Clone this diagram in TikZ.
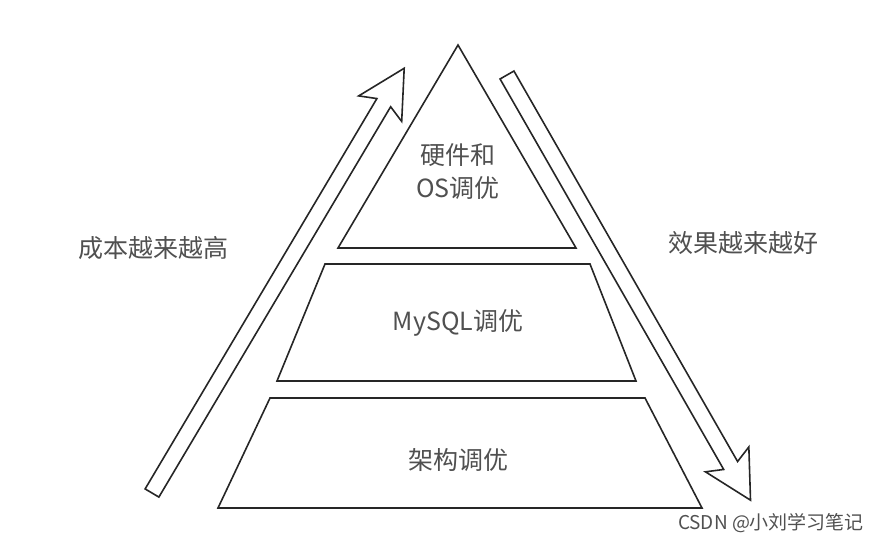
\documentclass[tikz,border=0pt]{standalone}
\usepackage{fontspec}
\setmainfont{Noto Sans CJK SC}
\definecolor{inkgray}{RGB}{80,80,80}
\tikzset{
  level/.style={draw=black!85, line width=1.6pt, line join=miter, fill=white},
  hollowarrow/.style={draw=black!85, line width=1.6pt, fill=white},
  label/.style={text=inkgray, font=\fontsize{25}{33}\selectfont, align=center, inner sep=0pt},
}
\begin{document}
\begin{tikzpicture}[x=1pt,y=1pt]
\useasboundingbox (0,0) rectangle (884,542);
% pyramid levels
\draw[level] (458,497) -- (338,294) -- (576,294) -- cycle;
\draw[level] (325,278) -- (590,278) -- (636,161) -- (277,161) -- cycle;
\draw[level] (270,144) -- (645,144) -- (702,34) -- (218,34) -- cycle;
% arrows
\begin{scope}[shift={(152,49)}, rotate=59.3]
\draw[hollowarrow] (0,-8) -- (454,-8) -- (447,-25) -- (494,0) -- (447,25) -- (454,8) -- (0,8) -- cycle;
\end{scope}
\begin{scope}[shift={(507,467)}, rotate=-60.2]
\draw[hollowarrow] (0,-8) -- (450,-8) -- (443,-25) -- (490,0) -- (443,25) -- (450,8) -- (0,8) -- cycle;
\end{scope}
% texts
\node[label] (top) at (458,370) {硬件和\\OS调优};
\node[label] (mid) at (458,219) {MySQL调优};
\node[label] (base) at (458,82) {架构调优};
\node[label] (cost) at (153,294) {成本越来越高};
\node[label] (gain) at (743,299) {效果越来越好};
\node[text=inkgray, font=\fontsize{19}{22}\selectfont, inner sep=0pt] (mark) at (771,19) {CSDN @小刘学习笔记};
\end{tikzpicture}
\end{document}
